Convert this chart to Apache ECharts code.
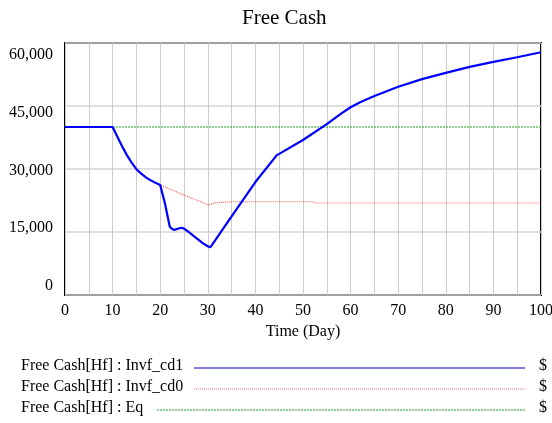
<!DOCTYPE html>
<html>
<head>
<meta charset="utf-8">
<script src="https://cdn.jsdelivr.net/npm/echarts@6/dist/echarts.min.js"></script>
<style>
html,body{margin:0;padding:0;background:#fff;}
#chart{width:552px;height:423px;}
</style>
</head>
<body>
<div id="chart"></div>
<script>
// ---- data ----
const timesCd1 = [0,10,11,12,13,14,15,16,17,18,19,20,21,22,22.5,23,24,24.5,25,26,27,28,29,30,30.5,31,35,40,44.5,45,50,55,58,60,62,65,70,75,80,85,90,95,100];
const invfCd1  = [40000,40000,37700,35400,33300,31500,29950,28900,28000,27300,26700,26200,21800,16300,15700,15500,15900,16000,15800,15000,14100,13200,12300,11600,11350,12100,18700,26900,33300,33600,36900,40700,43200,44700,45900,47400,49600,51400,52900,54300,55500,56600,57800];
const timesCd0 = [0,10,11,12,13,14,15,16,17,18,19,20,25,30.2,31,32,35,52,52.5,100];
const invfCd0  = [40000,40000,37700,35400,33300,31500,29950,28900,28000,27300,26700,26200,23800,21400,21800,22000,22200,22200,21900,21900];
const timesEq  = [0,100];
const eqVals   = [40000,40000];
const yTickValues = [0,15000,30000,45000,60000];
const legendNames = ['Free Cash[Hf] : Invf_cd1','Free Cash[Hf] : Invf_cd0','Free Cash[Hf] : Eq'];
const unitLabel = '$';

const pairs = (t, v) => t.map((x, i) => [x, v[i]]);
const serif = 'Liberation Serif';

const chart = echarts.init(document.getElementById('chart'));

const legendRows = [
  {y: 368, x1: 194, color: '#0000c8', dash: null},
  {y: 389, x1: 194, color: '#ff7070', dash: [1,1]},
  {y: 410, x1: 157, color: '#20a020', dash: [2,1]}
];
const graphics = [];
legendRows.forEach((r, i) => {
  graphics.push({type:'text', left: 21, top: r.y - 10,
    style:{text: legendNames[i], font: '16px "' + serif + '"', fill:'#000'}});
  graphics.push({type:'line', shape:{x1:r.x1, y1:r.y, x2:525, y2:r.y},
    style:{stroke:r.color, lineWidth:1, lineDash:r.dash}});
  graphics.push({type:'text', left: 539, top: r.y - 10,
    style:{text: unitLabel, font: '16px "' + serif + '"', fill:'#000'}});
});

chart.setOption({
  animation: false,
  backgroundColor: '#fff',
  title: {
    text: 'Free Cash', left: 237, top: 3,
    textStyle: {fontFamily: serif, fontSize: 21, fontWeight: 'normal', color: '#000'}
  },
  grid: {left: 65, right: 11, top: 43, bottom: 128, outerBoundsMode: 'none', containLabel: false,
    show: true, borderColor: '#000', borderWidth: 2, backgroundColor: 'transparent'},
  xAxis: {
    type: 'value', min: 0, max: 100, interval: 5,
    name: 'Time (Day)', nameLocation: 'middle', nameGap: 23,
    nameTextStyle: {fontFamily: serif, fontSize: 16, color: '#000'},
    axisLine: {show: false}, axisTick: {show: false},
    axisLabel: {fontFamily: serif, fontSize: 16, color: '#000', margin: 8,
      formatter: v => (v % 10 === 0 ? String(v) : '')},
    splitLine: {show: true, lineStyle: {color: '#cccccc', width: 1}}
  },
  yAxis: [
    {
      type: 'value', min: 0, max: 60000, interval: 15000,
      axisLine: {show: false}, axisTick: {show: false},
      axisLabel: {show: false},
      splitLine: {show: true, lineStyle: {color: '#d4d4d4', width: 1.5}}
    },
    {
      type: 'value', min: -2338, max: 63117, position: 'left',
      axisLine: {show: false}, axisTick: {show: false},
      splitLine: {show: false},
      axisLabel: {customValues: yTickValues, fontFamily: serif, fontSize: 16, color: '#000', margin: 12,
        formatter: v => Number(v).toLocaleString('en-US')}
    }
  ],
  series: [
    {name: legendNames[2], type: 'line', data: pairs(timesEq, eqVals), showSymbol: false, z: 2,
      lineStyle: {color: '#20a020', width: 1, type: [2,1]}},
    {name: legendNames[1], type: 'line', data: pairs(timesCd0, invfCd0), showSymbol: false, z: 3,
      lineStyle: {color: '#ff6060', width: 1.2, type: [1,1]}},
    {name: legendNames[0], type: 'line', data: pairs(timesCd1, invfCd1), showSymbol: false, z: 4,
      lineStyle: {color: '#0000ff', width: 2.2}}
  ],
  graphic: graphics
});
</script>
</body>
</html>
